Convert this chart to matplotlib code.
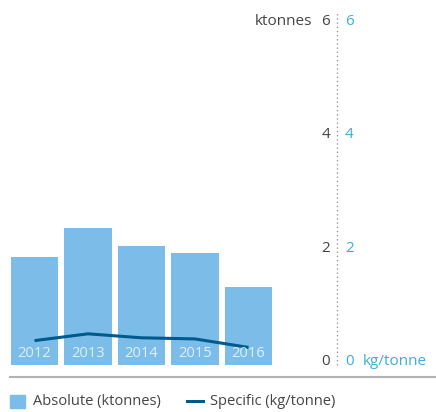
import matplotlib
matplotlib.use("Agg")
import matplotlib.pyplot as plt
from matplotlib.patches import Rectangle
from matplotlib.lines import Line2D

years = ["2012", "2013", "2014", "2015", "2016"]
absolute_kt = [1.91, 2.42, 2.09, 1.98, 1.38]
specific_kg = [0.43, 0.55, 0.48, 0.46, 0.31]
ticks = [0, 2, 4, 6]

W, H = 436, 412
fig = plt.figure(figsize=(W / 100, H / 100), dpi=100)
plt.rcParams['font.family'] = ['Open Sans', 'DejaVu Sans']

def fx(px):
    return px / W

def fy(py):
    return 1 - py / H

ax_left, ax_right, ax_top, ax_bot = 0, 337, 13, 365
ax = fig.add_axes([fx(ax_left), fy(ax_bot), fx(ax_right - ax_left), (ax_bot - ax_top) / H])
unit = 53.5
x0 = 34.5
ax.set_xlim((ax_left - x0) / unit, (ax_right - x0) / unit)
ymax = (ax_bot - ax_top) / 56.7
ax.set_ylim(0, ymax)
for s in ax.spines.values():
    s.set_visible(False)
ax.set_xticks([])
ax.set_yticks([])

bar_color = "#7bbde8"
line_color = "#005a8c"
xs = list(range(len(years)))
ax.bar(xs, absolute_kt, width=0.88, color=bar_color, zorder=1)
ax.plot(xs, specific_kg, color=line_color, lw=2.2, zorder=3, solid_capstyle='butt')
for x, y in zip(xs, years):
    ax.text(x, 0.21, y, ha='center', va='center', color='white', alpha=0.75,
            fontsize=10.6, zorder=4)

# right axis line (dotted)
ax.axvline((337 - x0) / unit, color='#999999', lw=1, ls=(0, (1, 2)), clip_on=False)

for t in ticks:
    ax.text((330 - x0) / unit, t, str(t), ha='right', va='baseline', color='#444444',
            fontsize=11, clip_on=False)
    ax.text((345 - x0) / unit, t, str(t), ha='left', va='baseline', color='#3aaee0',
            fontsize=11, clip_on=False)
ax.text((312 - x0) / unit, 6, "ktonnes", ha='right', va='baseline', color='#444444',
        fontsize=11, clip_on=False)
ax.text((363 - x0) / unit, 0, "kg/tonne", ha='left', va='baseline', color='#3aaee0',
        fontsize=11, clip_on=False)

# legend
fig.add_artist(Line2D([fx(10), fx(436)], [fy(377), fy(377)], color='#b3b3b3', lw=1.5))
fig.add_artist(Rectangle((fx(10), fy(408)), fx(15), 13 / H, color=bar_color,
                         transform=fig.transFigure))
fig.text(fx(33), fy(401.5), "Absolute (ktonnes)", ha='left', va='center', color='#444444',
         fontsize=10.5)
fig.add_artist(Line2D([fx(187), fx(203)], [fy(401), fy(401)], color=line_color, lw=2.2))
fig.text(fx(210), fy(401.5), "Specific (kg/tonne)", ha='left', va='center', color='#444444',
         fontsize=10.5)

fig.savefig("out.png", dpi=100)
